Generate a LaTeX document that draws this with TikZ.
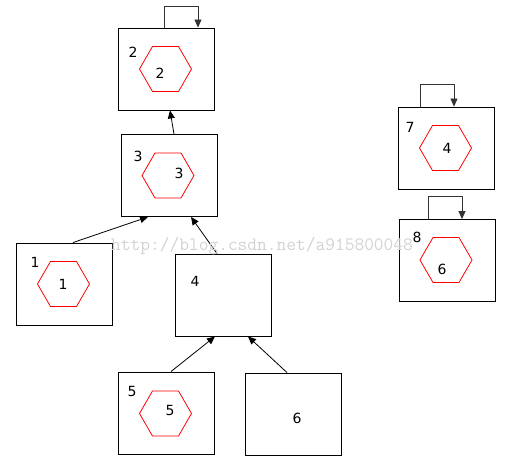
\documentclass[tikz,border=0pt]{standalone}
\usepackage{fontspec}
\setmainfont{DejaVu Sans}
\usetikzlibrary{arrows.meta,shapes.geometric}
\definecolor{hexred}{HTML}{FF0000}
\definecolor{markgray}{HTML}{D2D2D2}

\begin{document}
\begin{tikzpicture}[x=1pt,y=-1pt,
    blockbox/.style={draw=black, line width=0.9pt, minimum width=96pt, minimum height=82pt, inner sep=0pt},
    hexa/.style={draw=hexred, regular polygon, regular polygon sides=6, minimum size=52pt, inner sep=0pt, line width=0.8pt},
    num/.style={font=\fontsize{14}{16}\selectfont, inner sep=0pt},
    arr/.style={-{Triangle[length=8pt,width=7pt]}, line width=0.8pt, color=black},
    loop/.style={-{Triangle[length=8pt,width=7pt]}, line width=0.8pt, color=black!80}
]
\useasboundingbox (0,0) rectangle (512,473);

% Blocks
\node[blockbox] (b2) at (166,69) {};
\node[blockbox] (b3) at (169.5,175.5) {};
\node[blockbox] (b1) at (64.5,284) {};
\node[blockbox] (b4) at (223.5,295) {};
\node[blockbox] (b5) at (166,413) {};
\node[blockbox] (b6) at (293,414) {};
\node[blockbox] (b7) at (446,148) {};
\node[blockbox] (b8) at (447,260.5) {};

% Hexagons
\node[hexa] (h2) at (165.5,69) {};
\node[hexa] (h3) at (168,175.5) {};
\node[hexa] (h1) at (63.5,284) {};
\node[hexa] (h5) at (165.5,413.5) {};
\node[hexa] (h7) at (445.5,148) {};
\node[hexa] (h8) at (446,260) {};

% Block numbers
\node[num] (n2) at (133,52) {2};
\node[num] (n3) at (138,156) {3};
\node[num] (n1) at (35,262) {1};
\node[num] (n4) at (195,281) {4};
\node[num] (n5) at (132,391) {5};
\node[num] (n6) at (297,418) {6};
\node[num] (n7) at (410,127) {7};
\node[num] (n8) at (417,237) {8};

% Hexagon numbers
\node[num] (t2) at (160,73) {2};
\node[num] (t3) at (179,173) {3};
\node[num] (t1) at (63,284) {1};
\node[num] (t5) at (170,410) {5};
\node[num] (t7) at (447,148) {4};
\node[num] (t8) at (442,269) {6};

% Connecting arrows
\draw[arr] ([xshift=4.5pt]b3.north) -- ([xshift=4pt]b2.south);
\draw[arr] ([xshift=8.5pt]b1.north) -- ([xshift=-21.5pt]b3.south);
\draw[arr] ([xshift=-6.5pt]b4.north) -- ([xshift=21.5pt]b3.south);
\draw[arr] ([xshift=5pt]b5.north) -- ([xshift=-8.5pt]b4.south);
\draw[arr] ([xshift=-6pt]b6.north) -- ([xshift=24.5pt]b4.south);

% Self loops
\draw[loop] ([xshift=-2pt]b2.north) -- ++(0,-21) -| ([xshift=32pt]b2.north);
\draw[loop] ([xshift=-26pt]b7.north) -- ++(0,-22) -| ([xshift=8pt]b7.north);
\draw[loop] ([xshift=-19pt]b8.north) -- ++(0,-23) -| ([xshift=15pt]b8.north);

% Watermark
\node[anchor=west, inner sep=0pt, text=markgray, font=\ttfamily\fontsize{18.9}{20}\selectfont] (mark) at (111,246) {http://blog.csdn.net/a915800048};

\end{tikzpicture}
\end{document}
